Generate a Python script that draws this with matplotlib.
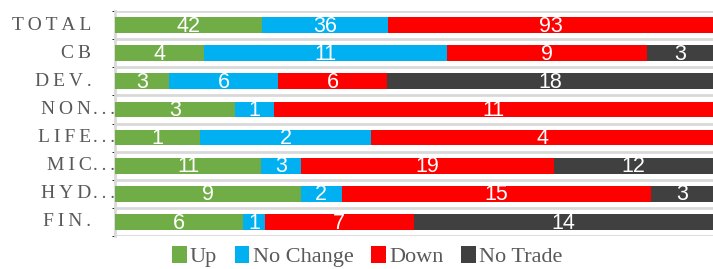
import matplotlib.pyplot as plt
import numpy as np
from matplotlib.patches import Patch

# data
categories = ['TOTAL', 'CB', 'DEV.', 'NON...', 'LIFE...', 'MIC...', 'HYD...', 'FIN.']
up = [42, 4, 3, 3, 1, 11, 9, 6]
no_change = [36, 11, 6, 1, 2, 3, 2, 1]
down = [93, 9, 6, 11, 4, 19, 15, 7]
no_trade = [0, 3, 18, 0, 0, 12, 3, 14]

series_names = ['Up', 'No Change', 'Down', 'No Trade']
colors = ['#70AD47', '#00B0F0', '#FF0000', '#404040']
series = [up, no_change, down, no_trade]

serif = ['Liberation Serif', 'DejaVu Serif']
label_gray = '#595959'


def spaced(s):
    # mimic the wide letter spacing of the original labels
    return '\u2009'.join(s)


fig = plt.figure(figsize=(7.13, 2.69), dpi=100)
ax = fig.add_axes([115 / 713, 1 - 236 / 269, 1 - 115 / 713, 225 / 269])

data = np.array(series, dtype=float)
totals = data.sum(axis=0)
shares = data / totals
y = np.arange(len(categories))

left = np.zeros(len(categories))
for vals, share, col in zip(data, shares, colors):
    ax.barh(y, share, left=left, height=0.56, color=col, linewidth=0, zorder=3)
    for i, (v, s, l) in enumerate(zip(vals, share, left)):
        if v > 0:
            ax.text(l + s / 2, i + 0.04, f'{int(v)}', color='white', ha='center', va='center',
                    fontsize=15.5, family=['Liberation Sans', 'DejaVu Sans'], zorder=4)
    left += share

ax.set_xlim(0, 1)
ax.set_ylim(len(categories) - 0.5, -0.5)

# gridlines between categories
ax.set_yticks(np.arange(-0.5, len(categories)), minor=True)
ax.grid(True, which='minor', axis='y', color='#D9D9D9', linewidth=2, zorder=1)
ax.set_yticks([])
ax.set_xticks([])
for side in ['top', 'right', 'bottom']:
    ax.spines[side].set_visible(False)
ax.spines['left'].set_color('#D9D9D9')
ax.spines['left'].set_linewidth(2)

# category labels, right aligned; trailing dots overflow to the axis
for i, cat in enumerate(categories):
    if cat.endswith('...'):
        base, dots = cat[:-3], '...'
    else:
        base, dots = cat, ''
    ax.annotate(spaced(base), xy=(0, i), xycoords=('axes fraction', 'data'),
                xytext=(-17, 0), textcoords='offset points', ha='right', va='center',
                fontsize=14, family=serif, color=label_gray)
    if dots:
        ax.annotate(spaced(dots), xy=(0, i), xycoords=('axes fraction', 'data'),
                    xytext=(-16, 0), textcoords='offset points', ha='left', va='center',
                    fontsize=14, family=serif, color=label_gray)

handles = [Patch(facecolor=c, label=n) for c, n in zip(colors, series_names)]
fig.legend(handles=handles, loc='center', bbox_to_anchor=(0.515, 0.045), ncol=4, frameon=False,
           handlelength=0.65, handleheight=0.75, handletextpad=0.15, columnspacing=0.8,
           borderpad=0.1, prop={'family': serif, 'size': 16}, labelcolor=label_gray)

fig.savefig('out.png', dpi=100)
